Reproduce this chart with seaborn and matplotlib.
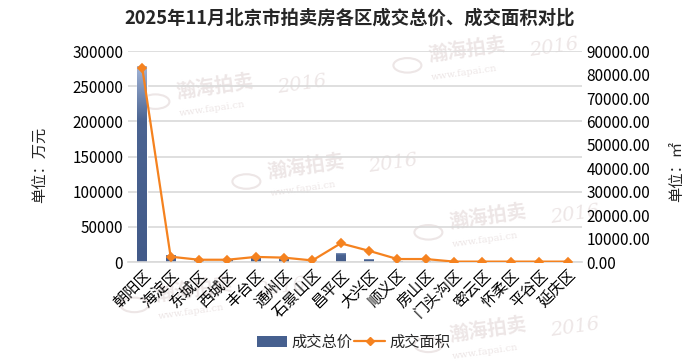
import matplotlib
matplotlib.use('Agg')
import matplotlib.pyplot as plt
import seaborn as sns
import pandas as pd
import numpy as np
from matplotlib.lines import Line2D
from matplotlib.patches import Patch, Circle
from matplotlib.colors import LinearSegmentedColormap
from matplotlib.ticker import FuncFormatter

# Data
districts = ['朝阳区', '海淀区', '东城区', '西城区', '丰台区', '通州区', '石景山区', '昌平区',
             '大兴区', '顺义区', '房山区', '门头沟区', '密云区', '怀柔区', '平谷区', '延庆区']
total_price = [279000, 10000, 5000, 3500, 7000, 4500, 0, 13000,
               4000, 1500, 1200, 0, 0, 0, 0, 0]
total_area = [82800, 2300, 1000, 1000, 2200, 1900, 700, 8000,
              4800, 1300, 1300, 200, 200, 200, 200, 200]

df = pd.DataFrame({'区': districts, '成交总价': total_price, '成交面积': total_area})

sns.set_theme(style='white')
plt.rcParams['font.family'] = ['Noto Sans CJK SC', 'DejaVu Sans']
plt.rcParams['axes.unicode_minus'] = False

BAR = '#46608F'
ORANGE = '#F5821F'
GRID = '#D9D9D9'
WM = '#EDE6E6'

fig = plt.figure(figsize=(7, 3.63), dpi=100)

# faint watermarks in the background
def watermark(x, y):
    fig.text(x, y, '瀚海拍卖', fontsize=14, fontweight='bold', color=WM,
             rotation=8, ha='left', va='bottom', zorder=-5)
    fig.text(x + 0.145, y + 0.025, '2016', fontsize=14, style='italic',
             family='DejaVu Serif', color=WM, rotation=8, zorder=-5)
    fig.text(x + 0.005, y - 0.04, 'www.fapai.cn', fontsize=7,
             family='DejaVu Serif', color=WM, rotation=8, zorder=-5)
    fig.patches.append(Circle((x - 0.028, y + 0.0), 0.02, transform=fig.transFigure,
                              fill=False, edgecolor=WM, linewidth=1.5, zorder=-5,
                              figure=fig))

for wx, wy in [(0.25, 0.72), (0.38, 0.50), (0.61, 0.82), (0.64, 0.36),
               (0.22, 0.16), (0.64, 0.05)]:
    watermark(wx, wy)

ax = fig.add_axes([0.183, 0.278, 0.648, 0.581])
ax.patch.set_alpha(0)

sns.barplot(data=df, x='区', y='成交总价', color=BAR, width=0.34,
            saturation=1, ax=ax, zorder=2)

# vertical gradient on the bars (light top, dark bottom)
cmap = LinearSegmentedColormap.from_list(
    'bar', [(0, '#425A89'), (0.72, '#4B6492'), (1, '#A3B6D8')])
grad = np.linspace(0, 1, 256).reshape(-1, 1)
for bar in ax.patches:
    h = bar.get_height()
    if h <= 0:
        continue
    x0 = bar.get_x()
    w = bar.get_width()
    im = ax.imshow(grad, extent=[x0, x0 + w, 0, h], origin='lower', cmap=cmap,
                   aspect='auto', zorder=2.5)
    im.set_clip_path(bar)
ax.set_xlim(-0.5, len(districts) - 0.5)

ax.set_ylim(0, 300000)
ax.set_yticks(range(0, 300001, 50000))
ax.yaxis.grid(True, color=GRID, linewidth=1.2, zorder=0)
ax.set_axisbelow(True)
for s in ['top', 'right', 'left']:
    ax.spines[s].set_visible(False)
ax.spines['bottom'].set_color(GRID)
ax.spines['bottom'].set_linewidth(1.2)
ax.tick_params(axis='both', length=0, labelsize=11, colors='#000000')
ax.set_xlabel('')
ax.set_ylabel('单位：万元', fontsize=11)
ax.yaxis.set_label_coords(-0.175, 0.46)
plt.setp(ax.get_xticklabels(), rotation=45, ha='right', rotation_mode='anchor',
         fontsize=11)
ax.tick_params(axis='x', pad=3)

ax2 = ax.twinx()
sns.pointplot(data=df, x='区', y='成交面积', color=ORANGE, markers='D',
              markersize=4, linewidth=1.6, ax=ax2)
ax2.set_ylim(0, 90000)
ax2.set_yticks(range(0, 90001, 10000))
ax2.yaxis.set_major_formatter(FuncFormatter(lambda v, p: f'{v:.2f}'))
for s in ['top', 'right', 'left', 'bottom']:
    ax2.spines[s].set_visible(False)
ax2.tick_params(axis='y', length=0, labelsize=11, colors='#000000')
ax2.set_ylabel('单位：㎡', fontsize=11)
ax2.yaxis.set_label_coords(1.19, 0.43)
ax2.set_xlim(ax.get_xlim())
ax2.set_xlabel('')

fig.suptitle('2025年11月北京市拍卖房各区成交总价、成交面积对比', fontsize=13.2,
             fontweight='bold', x=0.5, y=0.975)

handles = [Patch(facecolor=BAR, edgecolor='none'),
           Line2D([0], [0], color=ORANGE, marker='D', markersize=4, linewidth=1.6)]
fig.legend(handles, ['成交总价', '成交面积'], loc='center', bbox_to_anchor=(0.505, 0.057),
           ncol=2, frameon=False, fontsize=11, handlelength=2.0,
           columnspacing=0.1, handletextpad=0.3)

fig.savefig('out.png', dpi=100)
